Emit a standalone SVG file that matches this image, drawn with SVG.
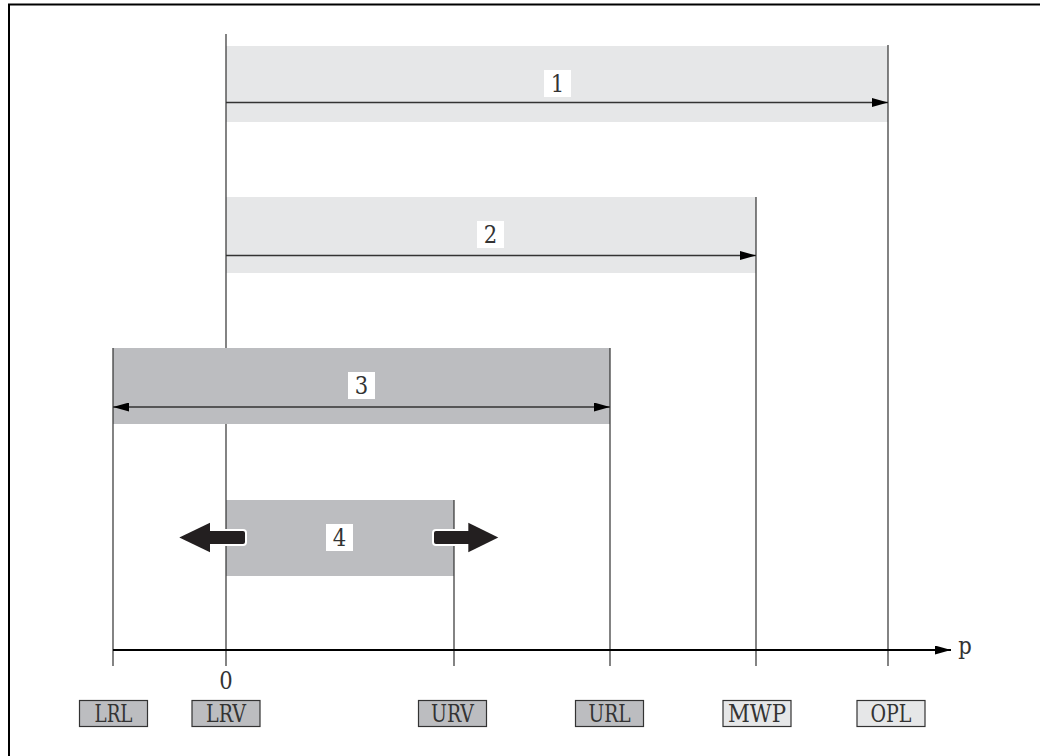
<svg xmlns="http://www.w3.org/2000/svg" width="1040" height="756" viewBox="0 0 1040 756">
<style>
.light{fill:#e6e7e8}
.dark{fill:#bcbdc0}
.vl{stroke:#333;stroke-width:1.2;fill:none}
.arr{stroke:#333;stroke-width:1.5;fill:none}
.num{fill:#fff}
.t{font-family:"DejaVu Serif","Liberation Serif",serif;font-size:23.5px;fill:#333;text-anchor:middle;font-stretch:condensed}
.lbl{stroke:#333;stroke-width:1.2}
.fat{fill:#231f20}
</style>
<defs>
<marker id="ah" viewBox="0 0 16 9" refX="16" refY="4.5" markerWidth="16" markerHeight="9" markerUnits="userSpaceOnUse" orient="auto-start-reverse">
<path d="M0,0 L16,4.5 L0,9 Z" fill="#000"/>
</marker>
</defs>
<path d="M9,756 V4.5 H1040" fill="none" stroke="#000" stroke-width="2"/>

<g id="band1"><rect class="light" x="226" y="46" width="662" height="76"/></g>
<g id="band2"><rect class="light" x="226" y="197" width="530" height="76"/></g>
<g id="band3"><rect class="dark" x="113" y="348" width="497" height="76"/></g>
<g id="band4"><rect class="dark" x="226" y="500" width="228" height="76"/></g>

<g id="lines">
<path class="vl" d="M226,34 V348 M226,424 V666 M113,348 V666 M454,500 V666 M610,348 V666 M756,197 V666 M888,45 V666"/>
</g>

<g id="connectors">
<line class="arr" x1="226" y1="102.5" x2="888" y2="102.5" marker-end="url(#ah)"/>
<line class="arr" x1="226" y1="255.5" x2="756" y2="255.5" marker-end="url(#ah)"/>
<line class="arr" x1="113" y1="407" x2="610" y2="407" marker-start="url(#ah)" marker-end="url(#ah)"/>
<line x1="113" y1="650" x2="951" y2="650" stroke="#000" stroke-width="2" marker-end="url(#ah)"/>
</g>

<g id="label1"><rect class="num" x="544" y="70" width="27" height="27"/><text class="t" x="557.5" y="92">1</text></g>
<g id="label2"><rect class="num" x="477" y="221" width="27" height="27"/><text class="t" x="490.5" y="243">2</text></g>
<g id="label3"><rect class="num" x="348" y="372" width="27" height="27"/><text class="t" x="361.5" y="394">3</text></g>
<g id="label4"><rect class="num" x="326" y="524" width="27" height="27"/><text class="t" x="339.5" y="546">4</text></g>

<g id="arrow-left">
<rect class="fat" x="206" y="530" width="40" height="15" rx="3" stroke="#fff" stroke-width="2"/>
<polygon class="fat" points="179.3,537.5 210,522.7 210,552.3"/>
</g>
<g id="arrow-right">
<rect class="fat" x="433" y="530" width="40" height="15" rx="3" stroke="#fff" stroke-width="2"/>
<polygon class="fat" points="468.3,522.7 498.3,537.5 468.3,552.3"/>
</g>

<text class="t" x="226" y="689">0</text>
<text class="t" x="965" y="654">p</text>

<g id="LRL"><rect class="dark lbl" x="79.5" y="700.5" width="68" height="26"/><text class="t" x="113.5" y="722" textLength="38" lengthAdjust="spacingAndGlyphs">LRL</text></g>
<g id="LRV"><rect class="dark lbl" x="192" y="700.5" width="68" height="26"/><text class="t" x="226" y="722" textLength="40" lengthAdjust="spacingAndGlyphs">LRV</text></g>
<g id="URV"><rect class="dark lbl" x="418.5" y="700.5" width="68" height="26"/><text class="t" x="452.5" y="722" textLength="43" lengthAdjust="spacingAndGlyphs">URV</text></g>
<g id="URL"><rect class="dark lbl" x="575.5" y="700.5" width="68" height="26"/><text class="t" x="609.5" y="722" textLength="42" lengthAdjust="spacingAndGlyphs">URL</text></g>
<g id="MWP"><rect class="light lbl" x="723" y="700.5" width="68" height="26"/><text class="t" x="757" y="722" textLength="58" lengthAdjust="spacingAndGlyphs">MWP</text></g>
<g id="OPL"><rect class="light lbl" x="857" y="700.5" width="68" height="26"/><text class="t" x="891" y="722" textLength="41" lengthAdjust="spacingAndGlyphs">OPL</text></g>
</svg>
